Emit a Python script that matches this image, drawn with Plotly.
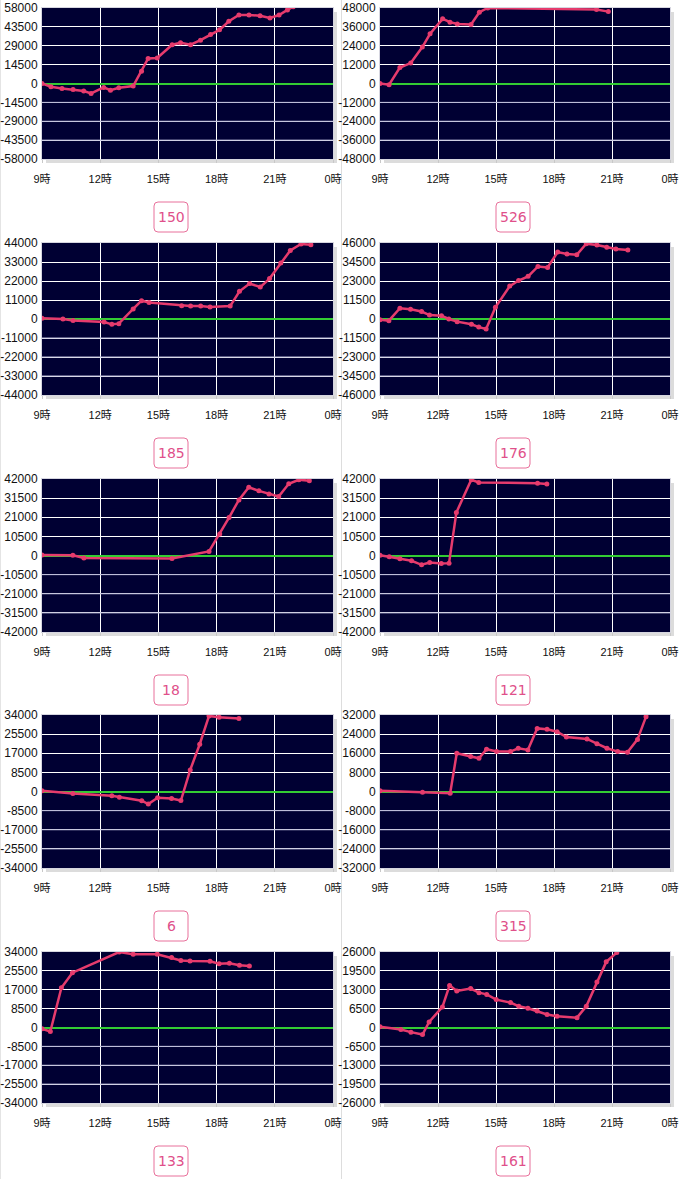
import plotly.graph_objects as go

W, H = 680, 1179

# ---------------- data ----------------
machine_ids = ["150", "526", "185", "176", "18", "121", "6", "315", "133", "161"]
y_limits = [58000, 48000, 44000, 46000, 42000, 42000, 34000, 32000, 34000, 26000]

hours_150 = [9.0, 9.46, 10.03, 10.6, 11.15, 11.53, 12.18, 12.53, 12.96, 13.7, 14.13, 14.47, 14.94,
             15.71, 16.14, 16.66, 17.17, 17.69, 18.15, 18.63, 19.15, 19.67, 20.24, 20.75, 21.22, 21.65, 21.95]
diff_150 = [0, -2500, -3800, -4600, -5800, -7600, -3000, -5100, -3300, -2000, 9400, 19300, 19600,
            29800, 31300, 29800, 33300, 37600, 41200, 47800, 52600, 52600, 52100, 50400, 52600, 56500, 59000]

hours_526 = [9.0, 9.47, 10.03, 10.59, 11.19, 11.59, 12.24, 12.62, 13.0, 13.71, 14.14, 14.57, 20.2, 20.81]
diff_526 = [0, -800, 10100, 13000, 23200, 31600, 41100, 39000, 37900, 37500, 45300, 48000, 47000, 45700]

hours_185 = [9.0, 10.08, 10.6, 12.2, 12.6, 12.96, 13.7, 14.13, 14.52, 16.2, 16.66, 17.18, 17.66,
             18.7, 19.18, 19.7, 20.25, 20.73, 21.31, 21.8, 22.35, 22.86]
diff_185 = [400, 0, -800, -1700, -3100, -2700, 5800, 10600, 9600, 7700, 7500, 7500, 6900,
            7500, 16000, 20500, 18500, 23400, 32400, 39700, 43400, 43000]

hours_176 = [9.0, 9.46, 10.03, 10.58, 11.15, 11.56, 12.18, 12.56, 12.99, 13.73, 14.11, 14.49, 14.97,
             15.71, 16.17, 16.66, 17.17, 17.67, 18.19, 18.67, 19.18, 19.67, 20.22, 20.73, 21.2, 21.82]
diff_176 = [-400, -1000, 6500, 5900, 4500, 2400, 2000, 0, -1600, -3200, -4900, -6100, 7100,
            19900, 23300, 25800, 31800, 31200, 40500, 39300, 38900, 45600, 44800, 43400, 42400, 41700]

hours_18 = [9.0, 10.59, 11.16, 15.7, 17.61, 18.16, 18.64, 19.15, 19.66, 20.18, 20.7, 21.2, 21.72, 22.24, 22.78]
diff_18 = [300, 100, -1400, -1700, 2200, 11800, 20800, 30500, 37500, 35500, 33700, 32400, 39400, 41600, 41100]

hours_121 = [9.0, 9.48, 10.03, 10.63, 11.15, 11.57, 12.17, 12.57, 12.95, 13.72, 14.11, 17.15, 17.63]
diff_121 = [200, -700, -1800, -2900, -5100, -3900, -4400, -4200, 23600, 41600, 40100, 39700, 39200]

hours_6 = [9.0, 10.59, 12.6, 12.99, 14.14, 14.48, 14.96, 15.68, 16.16, 16.64, 17.13, 17.61, 18.13, 19.15]
diff_6 = [300, -900, -1900, -2500, -4100, -5600, -2800, -3100, -4000, 9600, 21000, 33600, 33000, 32400]

hours_315 = [9.0, 11.2, 12.63, 12.97, 13.69, 14.12, 14.51, 15.03, 15.75, 16.15, 16.65, 17.13, 17.64,
             18.16, 18.64, 19.71, 20.22, 20.74, 21.29, 21.8, 22.32, 22.76, 22.92]
diff_315 = [300, -300, -700, 16000, 14600, 13900, 17700, 16700, 16700, 18100, 17400, 26400, 26000,
            25000, 22800, 22000, 20000, 18100, 16700, 16400, 21800, 31300, 33500]

hours_133 = [9.0, 9.43, 10.0, 10.57, 12.98, 13.7, 14.94, 15.68, 16.16, 16.63, 17.66, 18.13, 18.66, 19.18, 19.69]
diff_133 = [-600, -1800, 17900, 24700, 34000, 33000, 33000, 31500, 30200, 30000, 29800, 28700, 28900, 28000, 27700]

hours_161 = [9.0, 10.08, 10.6, 11.2, 11.54, 12.23, 12.6, 12.97, 13.69, 14.12, 14.52, 15.01, 15.75,
             16.18, 16.65, 17.13, 17.64, 18.16, 19.19, 19.67, 20.22, 20.7, 21.25]
diff_161 = [300, -700, -1600, -2400, 1900, 7100, 14500, 12600, 13400, 12000, 11400, 9600, 8600,
            7300, 6600, 5700, 4500, 3900, 3400, 7300, 15700, 22600, 25800]

series = [(hours_150, diff_150), (hours_526, diff_526), (hours_185, diff_185), (hours_176, diff_176),
          (hours_18, diff_18), (hours_121, diff_121), (hours_6, diff_6), (hours_315, diff_315),
          (hours_133, diff_133), (hours_161, diff_161)]

x_tick_vals = [9, 12, 15, 18, 21, 24]
x_tick_text = ["9時", "12時", "15時", "18時", "21時", "0時"]

# ---------------- layout geometry (pixels) ----------------
col_px = [(42, 333), (380, 670)]
col_center = [171, 513]
row_px = [(8, 159), (243, 395), (479, 632), (715, 868), (952, 1103)]

LINE_COLOR = "#e63b6d"
BG = "#000033"
FONT = "Liberation Sans, Arial, Noto Sans CJK JP, sans-serif"


def px(x):
    return x / W


def py(y):
    return 1 - y / H


fig = go.Figure()
shapes = []
annotations = []

for i, (hrs, vals) in enumerate(series):
    r, c = divmod(i, 2)
    x0, x1 = col_px[c]
    t, b = row_px[r]
    n = i + 1
    xa = "x" if n == 1 else f"x{n}"
    ya = "y" if n == 1 else f"y{n}"
    lim = y_limits[i]
    step = lim // 4
    yt = [k * step for k in range(-4, 5)]

    fig.add_trace(go.Scatter(
        x=hrs, y=vals, mode="lines+markers", xaxis=xa, yaxis=ya,
        line=dict(color=LINE_COLOR, width=2.5),
        marker=dict(color=LINE_COLOR, size=5),
        showlegend=False, hoverinfo="skip"))

    xkey = "xaxis" if n == 1 else f"xaxis{n}"
    ykey = "yaxis" if n == 1 else f"yaxis{n}"
    fig.layout[xkey] = dict(
        domain=[px(x0), px(x1)], range=[9, 24], anchor=ya, automargin=False,
        tickvals=x_tick_vals, ticktext=x_tick_text, ticklabeloverflow="allow",
        showgrid=True, gridcolor="#ffffff", gridwidth=1,
        showline=True, linecolor="#d6d6e0", linewidth=1, mirror=True,
        ticks="outside", ticklen=3, tickcolor="#c8c8c8",
        tickfont=dict(family=FONT, size=11, color="#111111"),
        ticklabelstandoff=7, zeroline=False, fixedrange=True)
    fig.layout[ykey] = dict(
        domain=[py(b), py(t)], range=[-lim, lim], anchor=xa, automargin=False,
        tickvals=yt, ticktext=[str(v) for v in yt], ticklabeloverflow="allow",
        showgrid=True, gridcolor="#ffffff", gridwidth=1,
        showline=True, linecolor="#d6d6e0", linewidth=1, mirror=True,
        zeroline=True, zerolinecolor="#33cc33", zerolinewidth=1.5,
        ticks="", tickfont=dict(family=FONT, size=12, color="#111111"),
        ticklabelstandoff=1, fixedrange=True)

    # lavender tint on the negative-side grid lines
    for v in yt[1:4]:
        shapes.append(dict(type="line", xref=xa, yref=ya, x0=9, x1=24, y0=v, y1=v,
                           line=dict(color="#b4b4d4", width=1), layer="above"))

    # drop shadow of the plot frame
    shapes.append(dict(type="rect", xref="paper", yref="paper",
                       x0=px(x1 + 1), x1=px(x1 + 4), y0=py(b + 4), y1=py(t + 4),
                       line=dict(width=0), fillcolor="#dcdcdc", layer="below"))
    shapes.append(dict(type="rect", xref="paper", yref="paper",
                       x0=px(x0 + 4), x1=px(x1 + 4), y0=py(b + 4), y1=py(b + 1),
                       line=dict(width=0), fillcolor="#dcdcdc", layer="below"))

    # rounded label box
    bx0, bx1 = col_center[c] - 17, col_center[c] + 17
    by0, by1 = b + 43, b + 73
    rad = 4
    pts = [
        f"M {px(bx0 + rad)},{py(by0)}",
        f"L {px(bx1 - rad)},{py(by0)}",
        f"Q {px(bx1)},{py(by0)} {px(bx1)},{py(by0 + rad)}",
        f"L {px(bx1)},{py(by1 - rad)}",
        f"Q {px(bx1)},{py(by1)} {px(bx1 - rad)},{py(by1)}",
        f"L {px(bx0 + rad)},{py(by1)}",
        f"Q {px(bx0)},{py(by1)} {px(bx0)},{py(by1 - rad)}",
        f"L {px(bx0)},{py(by0 + rad)}",
        f"Q {px(bx0)},{py(by0)} {px(bx0 + rad)},{py(by0)} Z",
    ]
    shapes.append(dict(type="path", xref="paper", yref="paper", path=" ".join(pts),
                       line=dict(color="#e8719b", width=1), fillcolor="white", layer="above"))
    annotations.append(dict(xref="paper", yref="paper", x=px(col_center[c]), y=py((by0 + by1) / 2),
                            text=machine_ids[i], showarrow=False, xanchor="center", yanchor="middle",
                            font=dict(family="DejaVu Sans, sans-serif", size=14, color="#e0508a")))

# column separators
shapes.append(dict(type="line", xref="paper", yref="paper", x0=px(341.5), x1=px(341.5), y0=0, y1=1,
                   line=dict(color="#dddddd", width=1), layer="below"))
shapes.append(dict(type="line", xref="paper", yref="paper", x0=px(0.5), x1=px(0.5), y0=0, y1=1,
                   line=dict(color="#e4e4e4", width=1), layer="below"))

fig.update_layout(
    width=W, height=H, margin=dict(l=0, r=0, t=0, b=0, autoexpand=False),
    paper_bgcolor="white", plot_bgcolor=BG,
    shapes=shapes, annotations=annotations,
    font=dict(family=FONT),
)

fig.write_html("out.html", include_plotlyjs=True, config={"displayModeBar": False})
